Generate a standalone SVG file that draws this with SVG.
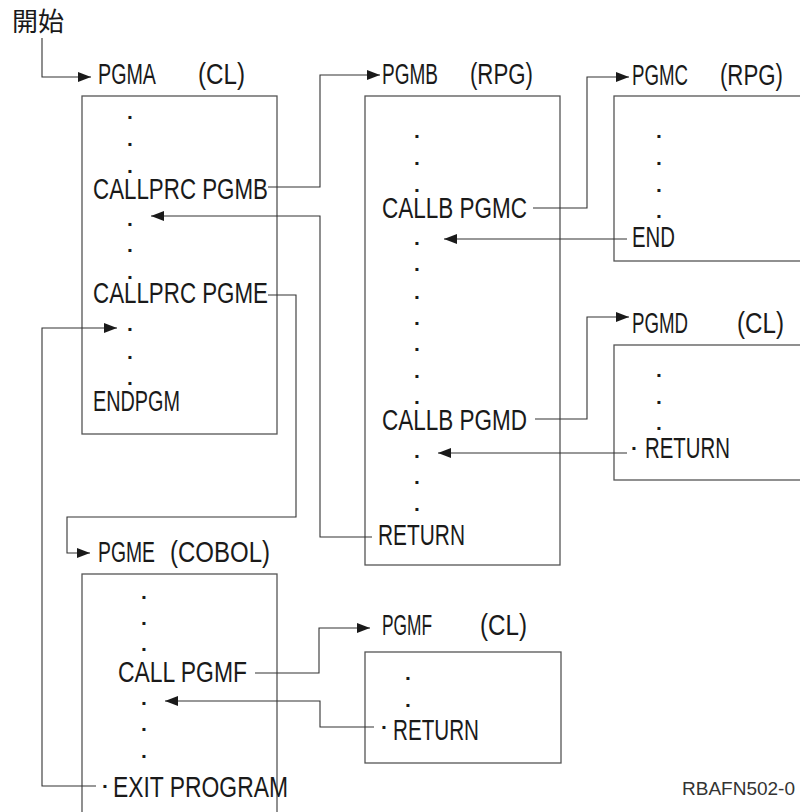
<svg xmlns="http://www.w3.org/2000/svg" width="800" height="812" viewBox="0 0 800 812">
<style>
.t{font-family:"Liberation Sans",Arial,sans-serif;font-size:29px;fill:#1a1a1a}
.d{font-family:"Liberation Sans",Arial,sans-serif;font-size:21px;font-weight:bold;fill:#1a1a1a;text-anchor:middle}
.cjk{font-family:"Liberation Sans","Noto Sans CJK JP","Noto Sans CJK SC",sans-serif;font-size:26px;fill:#1a1a1a}
.id{font-family:"Liberation Sans",Arial,sans-serif;font-size:19px;fill:#333}
.box{fill:#fff;stroke:#555;stroke-width:1.3}
.c{fill:none;stroke:#333;stroke-width:1.1}
</style>
<defs>
<marker id="ah" markerUnits="userSpaceOnUse" markerWidth="14" markerHeight="10" refX="13" refY="5" orient="auto">
<path d="M0,0 L13,5 L0,10 z" fill="#1a1a1a"/>
</marker>
</defs>
<rect width="800" height="812" fill="#fff"/>

<g id="start">
<text class="cjk" x="12" y="31">開始</text>
</g>

<g id="pgma">
<text class="t" transform="translate(98,84) scale(0.75,1)"><tspan x="0" textLength="77.3" lengthAdjust="spacingAndGlyphs">PGMA</tspan> <tspan x="133.3" textLength="62.7" lengthAdjust="spacingAndGlyphs">(CL)</tspan></text>
<rect class="box" x="82" y="96" width="195" height="338"/>
<text class="d" x="130" y="118.5">.</text>
<text class="d" x="130" y="145.5">.</text>
<text class="d" x="130" y="172.5">.</text>
<text class="t" transform="translate(93,199) scale(0.75,1)" textLength="233.3" lengthAdjust="spacingAndGlyphs">CALLPRC PGMB</text>
<text class="d" x="130" y="225.5">.</text>
<text class="d" x="130" y="251.5">.</text>
<text class="d" x="130" y="278.5">.</text>
<text class="t" transform="translate(93,303) scale(0.75,1)" textLength="233.3" lengthAdjust="spacingAndGlyphs">CALLPRC PGME</text>
<text class="d" x="130" y="330.5">.</text>
<text class="d" x="130" y="358.5">.</text>
<text class="d" x="130" y="384.5">.</text>
<text class="t" transform="translate(93,411) scale(0.75,1)" textLength="116" lengthAdjust="spacingAndGlyphs">ENDPGM</text>
</g>

<g id="pgmb">
<text class="t" transform="translate(382,84) scale(0.75,1)"><tspan x="0" textLength="74.7" lengthAdjust="spacingAndGlyphs">PGMB</tspan> <tspan x="117.3" textLength="84" lengthAdjust="spacingAndGlyphs">(RPG)</tspan></text>
<rect class="box" x="365" y="96" width="195" height="469"/>
<text class="d" x="417" y="137.5">.</text>
<text class="d" x="417" y="164.5">.</text>
<text class="d" x="417" y="191.5">.</text>
<text class="t" transform="translate(382,218) scale(0.75,1)" textLength="193.3" lengthAdjust="spacingAndGlyphs">CALLB PGMC</text>
<text class="d" x="417" y="244.5">.</text>
<text class="d" x="417" y="270.5">.</text>
<text class="d" x="417" y="298.5">.</text>
<text class="d" x="417" y="324.5">.</text>
<text class="d" x="417" y="350.5">.</text>
<text class="d" x="417" y="377.5">.</text>
<text class="d" x="417" y="403.5">.</text>
<text class="t" transform="translate(382,430) scale(0.75,1)" textLength="193.3" lengthAdjust="spacingAndGlyphs">CALLB PGMD</text>
<text class="d" x="417" y="457.5">.</text>
<text class="d" x="417" y="483.5">.</text>
<text class="d" x="417" y="510.5">.</text>
<text class="t" transform="translate(378,545) scale(0.75,1)" textLength="116" lengthAdjust="spacingAndGlyphs">RETURN</text>
</g>

<g id="pgmc">
<text class="t" transform="translate(632,85) scale(0.75,1)"><tspan x="0" textLength="74.7" lengthAdjust="spacingAndGlyphs">PGMC</tspan> <tspan x="117.3" textLength="84" lengthAdjust="spacingAndGlyphs">(RPG)</tspan></text>
<rect class="box" x="614" y="96" width="200" height="165"/>
<text class="d" x="659" y="137.5">.</text>
<text class="d" x="659" y="164.5">.</text>
<text class="d" x="659" y="191.5">.</text>
<text class="d" x="659" y="217.5">.</text>
<text class="t" transform="translate(632,247) scale(0.75,1)" textLength="57.3" lengthAdjust="spacingAndGlyphs">END</text>
</g>

<g id="pgmd">
<text class="t" transform="translate(632,333) scale(0.75,1)"><tspan x="0" textLength="74.7" lengthAdjust="spacingAndGlyphs">PGMD</tspan> <tspan x="140" textLength="62.7" lengthAdjust="spacingAndGlyphs">(CL)</tspan></text>
<rect class="box" x="614" y="345" width="200" height="135"/>
<text class="d" x="659" y="376.5">.</text>
<text class="d" x="659" y="403.5">.</text>
<text class="d" x="659" y="429.5">.</text>
<text class="d" x="634" y="449.5">.</text>
<text class="t" transform="translate(645,458) scale(0.75,1)" textLength="113.3" lengthAdjust="spacingAndGlyphs">RETURN</text>
</g>

<g id="pgme">
<text class="t" transform="translate(98,562) scale(0.75,1)"><tspan x="0" textLength="76" lengthAdjust="spacingAndGlyphs">PGME</tspan> <tspan x="96" textLength="133.3" lengthAdjust="spacingAndGlyphs">(COBOL)</tspan></text>
<rect class="box" x="82" y="574" width="195" height="260"/>
<text class="d" x="144" y="598.5">.</text>
<text class="d" x="144" y="624.5">.</text>
<text class="d" x="144" y="650.5">.</text>
<text class="t" transform="translate(118,682) scale(0.75,1)" textLength="172" lengthAdjust="spacingAndGlyphs">CALL PGMF</text>
<text class="d" x="144" y="704.5">.</text>
<text class="d" x="144" y="730.5">.</text>
<text class="d" x="144" y="757.5">.</text>
<text class="d" x="105" y="787.5">.</text>
<text class="t" transform="translate(113,797) scale(0.75,1)" textLength="233.3" lengthAdjust="spacingAndGlyphs">EXIT PROGRAM</text>
</g>

<g id="pgmf">
<text class="t" transform="translate(382,635) scale(0.75,1)"><tspan x="0" textLength="66.7" lengthAdjust="spacingAndGlyphs">PGMF</tspan> <tspan x="130.7" textLength="62.7" lengthAdjust="spacingAndGlyphs">(CL)</tspan></text>
<rect class="box" x="365" y="652" width="196" height="111"/>
<text class="d" x="408" y="679.5">.</text>
<text class="d" x="408" y="706.5">.</text>
<text class="d" x="384" y="728.5">.</text>
<text class="t" transform="translate(393,740) scale(0.75,1)" textLength="114.7" lengthAdjust="spacingAndGlyphs">RETURN</text>
</g>

<g id="figure-id">
<text class="id" x="682" y="795">RBAFN502-0</text>
</g>

<g id="connectors">
<polyline class="c" points="42,38 42,77 91,77" marker-end="url(#ah)"/>
<polyline class="c" points="268,187 320,187 320,75 380,75" marker-end="url(#ah)"/>
<polyline class="c" points="372,537 320,537 320,216 151,216" marker-end="url(#ah)"/>
<polyline class="c" points="268,295 296,295 296,517 67,517 67,553 90,553" marker-end="url(#ah)"/>
<polyline class="c" points="96,786 42,786 42,328 117,328" marker-end="url(#ah)"/>
<polyline class="c" points="533,208 587,208 587,77 629,77" marker-end="url(#ah)"/>
<polyline class="c" points="627,239 444,239" marker-end="url(#ah)"/>
<polyline class="c" points="535,419 587,419 587,317 629,317" marker-end="url(#ah)"/>
<polyline class="c" points="627,453 438,453" marker-end="url(#ah)"/>
<polyline class="c" points="255,673 319,673 319,628 370,628" marker-end="url(#ah)"/>
<polyline class="c" points="374,727 320,727 320,701 165,701" marker-end="url(#ah)"/>
</g>
</svg>
